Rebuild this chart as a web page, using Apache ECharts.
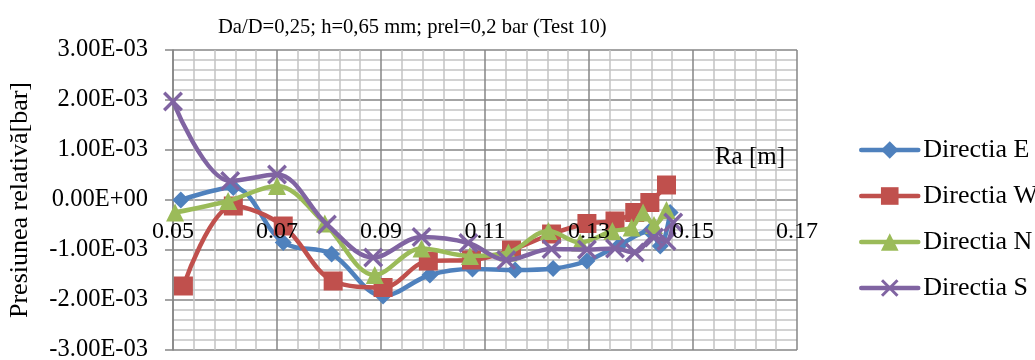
<!DOCTYPE html>
<html>
<head>
<meta charset="utf-8">
<script src="https://cdn.jsdelivr.net/npm/echarts@6/dist/echarts.min.js"></script>
<style>
  html, body { margin: 0; padding: 0; background: #fff; }
  #chart { width: 1035px; height: 360px; }
</style>
</head>
<body>
<div id="chart"></div>
<script>
// Radial position Ra [m] and relative pressure [bar] for each measuring direction
const seriesNames = ['Directia E', 'Directia W', 'Directia N', 'Directia S'];

const raE = [0.0515, 0.0616, 0.0712, 0.0805, 0.0904, 0.0994, 0.1076, 0.1158, 0.1231, 0.1296, 0.1360, 0.1417, 0.1437, 0.1456];
const pE  = [0.00e-3, 0.25e-3, -0.85e-3, -1.08e-3, -1.92e-3, -1.50e-3, -1.38e-3, -1.40e-3, -1.37e-3, -1.22e-3, -0.89e-3, -0.62e-3, -0.92e-3, -0.25e-3];

const raW = [0.0520, 0.0616, 0.0712, 0.0808, 0.0904, 0.0991, 0.1074, 0.1151, 0.1228, 0.1296, 0.1350, 0.1388, 0.1417, 0.1449];
const pW  = [-1.72e-3, -0.12e-3, -0.52e-3, -1.62e-3, -1.75e-3, -1.22e-3, -1.20e-3, -1.00e-3, -0.68e-3, -0.47e-3, -0.42e-3, -0.25e-3, -0.05e-3, 0.30e-3];

const raN = [0.0504, 0.0606, 0.0700, 0.0792, 0.0888, 0.0978, 0.1071, 0.1145, 0.1222, 0.1283, 0.1345, 0.1382, 0.1404, 0.1425, 0.1449];
const pN  = [-0.25e-3, -0.02e-3, 0.28e-3, -0.47e-3, -1.50e-3, -0.97e-3, -1.12e-3, -1.05e-3, -0.62e-3, -0.85e-3, -0.62e-3, -0.55e-3, -0.25e-3, -0.50e-3, -0.20e-3];

const raS = [0.0500, 0.0610, 0.0700, 0.0796, 0.0885, 0.0978, 0.1068, 0.1141, 0.1228, 0.1296, 0.1350, 0.1388, 0.1425, 0.1449, 0.1462];
const pS  = [1.97e-3, 0.38e-3, 0.51e-3, -0.49e-3, -1.15e-3, -0.74e-3, -0.86e-3, -1.20e-3, -0.98e-3, -0.99e-3, -0.97e-3, -1.05e-3, -0.75e-3, -0.82e-3, -0.45e-3];

const colors = ['#4F81BD', '#C0504D', '#9BBB59', '#8064A2'];
const symbols = [
  'diamond',
  'rect',
  'triangle',
  // thin diagonal cross
  'path://M0,1.2L1.2,0L10,8.8L8.8,10Z M8.8,0L10,1.2L1.2,10L0,8.8Z'
];
const symbolSizes = [17, 19, 18, 20];

const pairs = (xs, ys) => xs.map((x, i) => [x, ys[i]]);
const seriesData = [pairs(raE, pE), pairs(raW, pW), pairs(raN, pN), pairs(raS, pS)];

// Scientific notation with a two-digit exponent, e.g. -1.00E-03
function sci(v) {
  const s = v.toExponential(2);
  const parts = s.split('e');
  const sign = parts[1][0];
  const exp = parts[1].slice(1).padStart(2, '0');
  return parts[0] + 'E' + sign + exp;
}

const serif = '"Liberation Serif", "DejaVu Serif", serif';
const gridTop = 50, gridHeight = 300;
const xMin = 0.05, xMax = 0.17, xStep = 0.02;
const yMin = -0.003, yMax = 0.003, yStep = 0.001;
// the horizontal axis crosses the vertical one at zero pressure
const zeroOffset = -gridHeight * (0 - yMin) / (yMax - yMin);

const gridLineMajor = { show: true, lineStyle: { color: '#868686', width: 1.5 } };
const gridLineMinor = { show: true, lineStyle: { color: '#c3c3c3', width: 1.5 } };

const chart = echarts.init(document.getElementById('chart'), null, { renderer: 'canvas' });

chart.setOption({
  backgroundColor: '#ffffff',
  animation: false,
  title: {
    text: 'Da/D=0,25; h=0,65 mm; prel=0,2 bar (Test 10)',
    left: 213,
    top: 12,
    textStyle: { fontFamily: serif, fontSize: 20.6, fontWeight: 'normal', color: '#000' }
  },
  legend: {
    orient: 'vertical',
    left: 854,
    top: 132,
    itemWidth: 57,
    itemHeight: 22,
    itemGap: 20,
    lineStyle: { width: 4.5, cap: 'round' },
    textStyle: { fontFamily: serif, fontSize: 26, color: '#000', lineHeight: 26 },
    data: seriesNames
  },
  grid: { left: 173, right: 238, top: gridTop, height: gridHeight, containLabel: false, outerBoundsMode: 'none' },
  xAxis: [
    {
      // tick labels and axis title at zero pressure, drawn above the curves
      type: 'value',
      min: xMin, max: xMax, interval: xStep,
      position: 'bottom',
      offset: zeroOffset,
      z: 10,
      name: 'Ra [m]',
      nameLocation: 'end',
      nameGap: -12,
      nameTextStyle: {
        fontFamily: serif, fontSize: 25, color: '#000',
        align: 'right', verticalAlign: 'bottom', padding: [0, 0, 30, 0]
      },
      axisLine: { show: false, onZero: false },
      axisTick: { show: false },
      axisLabel: {
        margin: 20,
        fontFamily: serif, fontSize: 24, color: '#000',
        formatter: v => v.toFixed(2)
      },
      splitLine: { show: false }
    },
    {
      // vertical gridlines behind the curves
      type: 'value',
      min: xMin, max: xMax, interval: xStep,
      position: 'bottom',
      z: 0,
      axisLine: { show: false },
      axisTick: { show: false },
      axisLabel: { show: false },
      splitLine: gridLineMajor,
      minorTick: { show: false, splitNumber: 5 },
      minorSplitLine: gridLineMinor
    }
  ],
  yAxis: {
    type: 'value',
    min: yMin, max: yMax, interval: yStep,
    name: 'Presiunea relativă[bar]',
    nameLocation: 'middle',
    nameGap: 140,
    nameTextStyle: { fontFamily: serif, fontSize: 26, color: '#000' },
    axisLine: { show: true, onZero: false, lineStyle: { color: '#868686', width: 1.5 } },
    axisTick: { show: true, length: 8, lineStyle: { color: '#868686', width: 1.5 } },
    axisLabel: {
      margin: 25,
      fontFamily: serif, fontSize: 24.5, color: '#000',
      formatter: v => sci(v)
    },
    splitLine: gridLineMajor,
    minorTick: { show: false, splitNumber: 5 },
    minorSplitLine: gridLineMinor
  },
  series: seriesNames.map((name, i) => ({
    name,
    type: 'line',
    xAxisIndex: 0,
    data: seriesData[i],
    smooth: 0.35,
    symbol: symbols[i],
    symbolSize: symbolSizes[i],
    showAllSymbol: true,
    color: colors[i],
    lineStyle: { color: colors[i], width: 4.5, cap: 'round', join: 'round' },
    itemStyle: { color: colors[i] },
    z: 2 + i
  }))
});
</script>
</body>
</html>
